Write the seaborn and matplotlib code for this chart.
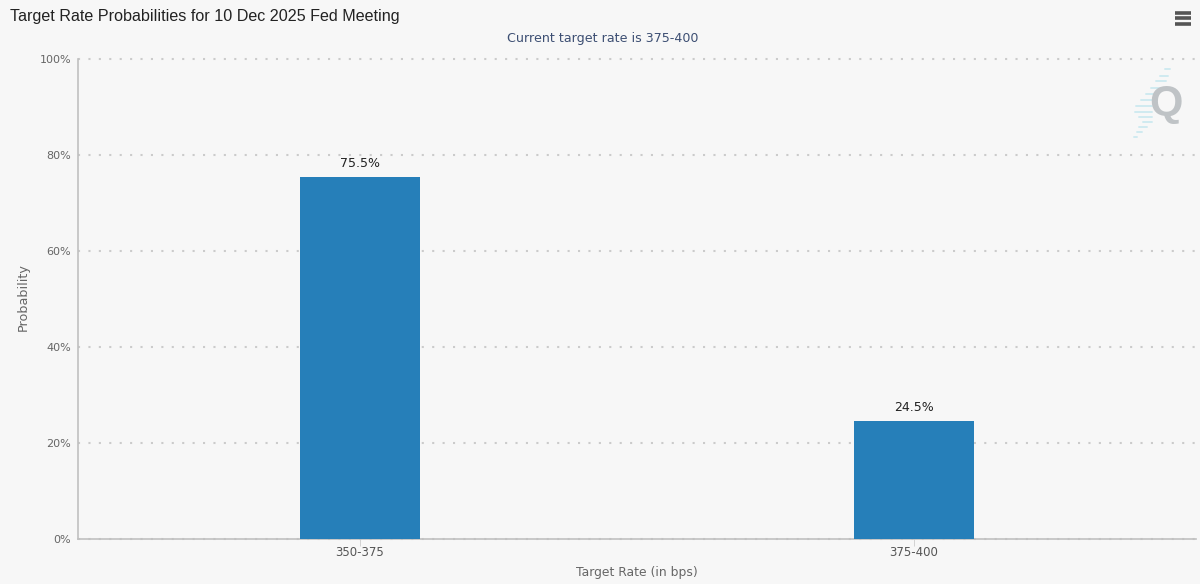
import matplotlib
matplotlib.use("Agg")
import matplotlib.pyplot as plt
import seaborn as sns
import pandas as pd
from matplotlib.lines import Line2D

# data
rates = ["350-375", "375-400"]
probs = [75.5, 24.5]
yticks = [0, 20, 40, 60, 80, 100]

BG = "#f7f7f7"
W, H = 1200, 584

sns.set_style("white")
plt.rcParams["font.family"] = ["DejaVu Sans"]

df = pd.DataFrame({"rate": rates, "prob": probs})

fig = plt.figure(figsize=(12, 5.84), dpi=100, facecolor=BG)
ax = fig.add_axes([78 / W, 1 - 539 / H, (1196 - 78) / W, (539 - 59) / H], facecolor=BG)

sns.barplot(data=df, x="rate", y="prob", color="#267fb9", saturation=1, width=0.218,
            linewidth=0, ax=ax, zorder=3)

ax.set_xlim(-0.509, 1.509)
ax.set_ylim(0, 100)
ax.set_yticks(yticks)
ax.set_yticklabels([f"{v}%" for v in yticks], color="#666666", fontsize=8)
ax.tick_params(axis="y", length=0, pad=5)
ax.tick_params(axis="x", length=5, width=0.6, color="#cccccc", labelcolor="#555555", labelsize=8.5, pad=0, bottom=True)
ax.yaxis.grid(True, linestyle=(0, (1, 4)), linewidth=1.5, color="#cbcbcb", zorder=0)
ax.xaxis.grid(False)
for gl in ax.get_ygridlines():
    gl.set_clip_on(False)

sns.despine(ax=ax, top=True, right=True)
ax.spines["left"].set_color("#c0c0c0")
ax.spines["left"].set_linewidth(1.2)
ax.spines["bottom"].set_color("#c0c0c0")
ax.spines["bottom"].set_linewidth(1.2)

ax.set_xlabel("Target Rate (in bps)", color="#666666", fontsize=8.9, labelpad=5)
ax.set_ylabel("Probability", color="#666666", fontsize=9.2, labelpad=7, y=0.505)

for c in ax.containers:
    ax.bar_label(c, labels=[f"{v}%" for v in probs], padding=5, fontsize=9, color="#222222")

fig.text(10 / W, 1 - 16 / H, "Target Rate Probabilities for 10 Dec 2025 Fed Meeting",
         family="Liberation Sans", fontsize=11.6, color="#222222", va="center", ha="left")
fig.text(603 / W, 1 - 38.5 / H, "Current target rate is 375-400",
         fontsize=9.1, color="#3d4f73", va="center", ha="center")

# menu icon, top right
for y in [12.5, 18, 23.5]:
    fig.add_artist(Line2D([1175 / W, 1191 / W], [1 - y / H, 1 - y / H], color="#555555", lw=2.6,
                          solid_capstyle="butt"))

# watermark
streaks = [(1165, 1170, 69), (1160, 1168, 76), (1156, 1166, 81), (1151, 1162, 88), (1146, 1158, 94),
           (1141, 1154, 100), (1136, 1152, 106), (1135, 1152, 112), (1139, 1152, 117),
           (1143, 1152, 122), (1139, 1147, 127), (1137, 1142, 132), (1134, 1137, 137)]
for x0, x1, y in streaks:
    fig.add_artist(Line2D([x0 / W, x1 / W], [1 - y / H, 1 - y / H], color="#cfeaf0", lw=1.4))
fig.text(1166 / W, 1 - 104 / H, "Q", fontsize=31, fontweight="bold", family="Liberation Sans",
         color="#bfc3c6", va="center", ha="center")

fig.savefig("out.png", dpi=100, facecolor=BG)
